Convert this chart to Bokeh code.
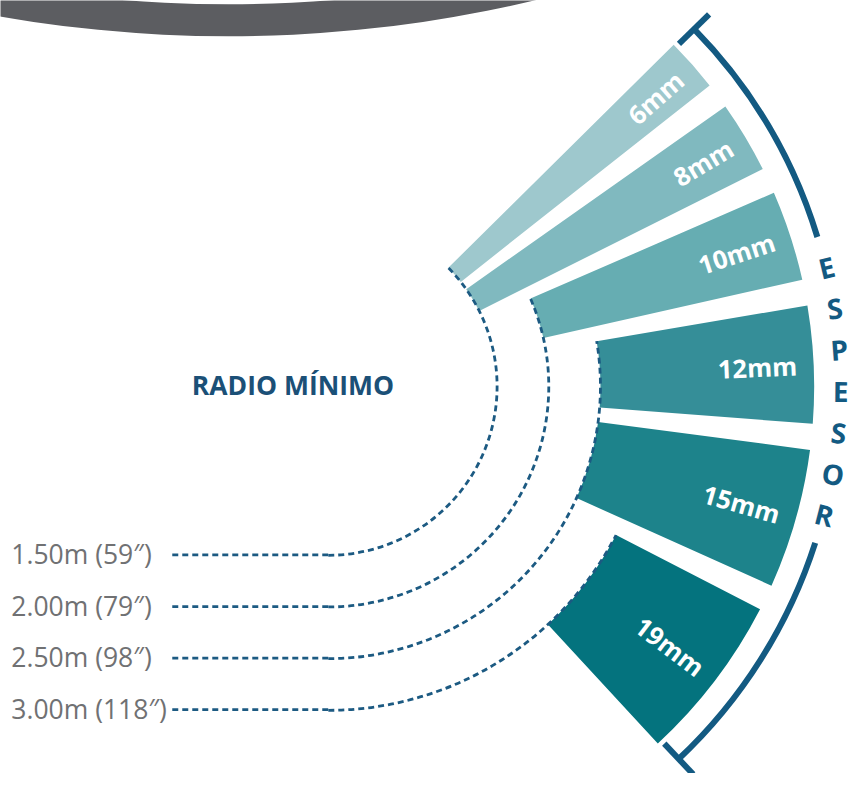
import math
from bokeh.plotting import figure
from bokeh.models import Range1d, ColumnDataSource
from bokeh.core.properties import value
from bokeh.embed import file_html
from bokeh.resources import INLINE

# ---- data ----
thickness_labels = ["6mm", "8mm", "10mm", "12mm", "15mm", "19mm"]
thickness_mm = [6, 8, 10, 12, 15, 19]
min_radius_m = [1.5, 1.5, 2.0, 2.5, 2.5, 3.0]          # minimum bending radius per thickness
span_deg = [6.4, 8.6, 10.8, 14.0, 16.7, 20.0]           # angular share of each sector
radius_levels_m = [1.5, 2.0, 2.5, 3.0]
radius_labels = ["1.50m (59\u2033)", "2.00m (79\u2033)", "2.50m (98\u2033)", "3.00m (118\u2033)"]
sector_colors = ["#9ec8cd", "#80b9bf", "#66adb2", "#358e98", "#1d838b", "#04737e"]
axis_title = "RADIO MÍNIMO"
bracket_title = "ESPESOR"

# ---- layout (reference pixels; data y = 789 - pixel y) ----
W, H = 866, 789
CX, CY = 334, H - 394
R0, K = 14.0, 105.3           # radius scale: px = R0 + K * metres
R_OUT = 495
R_BRACKET = 521
START_DEG = 44.7
GAP_DEG = 3.1

def rscale(m):
    return R0 + K * m

p = figure(width=850, height=773, x_range=Range1d(0, W), y_range=Range1d(0, H),
           x_axis_type=None, y_axis_type=None, toolbar_location=None,
           output_backend="svg", min_border=0, outline_line_color=None)
p.grid.visible = False
p.background_fill_color = "white"
p.border_fill_color = "white"

# decorative grey ring at the top
p.annulus(x=232, y=H + 1318, inner_radius=1319.5, outer_radius=1352,
          fill_color="#5c5d61", line_color=None)

# sectors
starts, ends, inners, mids = [], [], [], []
cur = START_DEG
for s, m in zip(span_deg, min_radius_m):
    top = cur
    bot = cur - s
    starts.append(math.radians(bot))
    ends.append(math.radians(top))
    inners.append(rscale(m))
    mids.append(math.radians((top + bot) / 2))
    cur = bot - GAP_DEG

src = ColumnDataSource(dict(start=starts, end=ends, inner=inners, color=sector_colors))
p.annular_wedge(x=CX, y=CY, inner_radius="inner", outer_radius=R_OUT,
                start_angle="start", end_angle="end", fill_color="color",
                line_color=None, source=src)

# sector labels
R_TXT = 478
tx = [CX + R_TXT * math.cos(a) for a in mids]
ty = [CY + R_TXT * math.sin(a) for a in mids]
p.text(x=tx, y=ty, text=thickness_labels, angle=mids, text_align="right",
       text_baseline="middle", text_color="white", text_font=value("Open Sans"),
       text_font_size="25.5px", text_font_style="bold")

# dashed radius guides
DASH_COLOR = "#1c5a82"
for m, lab in zip(radius_levels_m, radius_labels):
    r = rscale(m)
    idx = min_radius_m.index(m)
    top_angle = ends[idx]
    p.arc(x=CX, y=CY, radius=r, start_angle=-math.pi / 2, end_angle=top_angle,
          line_color=DASH_COLOR, line_width=2.8, line_dash="6 4")
    p.segment(x0=175, y0=CY - r, x1=CX, y1=CY - r,
              line_color=DASH_COLOR, line_width=2.8, line_dash="6 4")
    p.text(x=[11], y=[CY - r + 1], text=[lab], text_align="left",
           text_baseline="middle", text_color="#707173",
           text_font=value("Open Sans"), text_font_size="26.5px")

# centre title
p.text(x=[298], y=[H - 392], text=[axis_title], text_align="center",
       text_baseline="middle", text_color="#1b5077",
       text_font=value("Open Sans"), text_font_size="26.5px", text_font_style="bold")

# bracket
BR_COLOR = "#135a82"
top_end = 44.4
bot_end = -46.8
gap_top, gap_bot = 17.0, -17.8
p.arc(x=CX, y=CY, radius=R_BRACKET, start_angle=math.radians(gap_top),
      end_angle=math.radians(top_end), line_color=BR_COLOR, line_width=6)
p.arc(x=CX, y=CY, radius=R_BRACKET, start_angle=math.radians(bot_end),
      end_angle=math.radians(gap_bot), line_color=BR_COLOR, line_width=6)
for a in (top_end, bot_end):
    ar = math.radians(a)
    p.segment(x0=CX + 500 * math.cos(ar), y0=CY + 500 * math.sin(ar),
              x1=CX + 543 * math.cos(ar), y1=CY + 543 * math.sin(ar),
              line_color=BR_COLOR, line_width=6)

# bracket title letters along the arc
letters = list(bracket_title)
n = len(letters)
la = [math.radians(13.5 + (-14.5 - 13.5) * i / (n - 1)) for i in range(n)]
p.text(x=[CX + 522 * math.cos(a) for a in la], y=[CY + 522 * math.sin(a) for a in la],
       text=letters, angle=la, text_align="center", text_baseline="middle",
       text_color=BR_COLOR, text_font=value("Open Sans"), text_font_size="28px",
       text_font_style="bold")

open("out.html", "w").write(file_html(p, INLINE))
